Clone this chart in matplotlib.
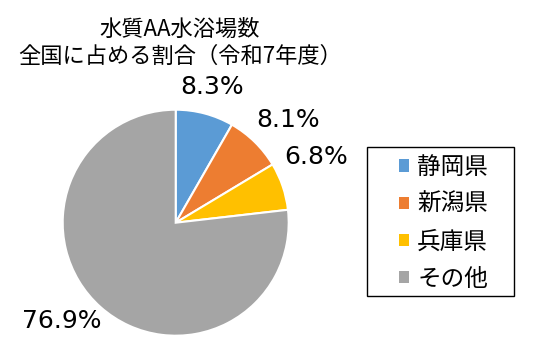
import matplotlib
matplotlib.use("Agg")
import matplotlib.pyplot as plt
from matplotlib.patches import Rectangle
import numpy as np

plt.rcParams['font.family'] = ['Noto Sans CJK JP', 'DejaVu Sans']

title = "水質AA水浴場数\n全国に占める割合（令和7年度）"
categories = ["静岡県", "新潟県", "兵庫県", "その他"]
values = [8.3, 8.1, 6.8, 76.9]
labels = ["8.3%", "8.1%", "6.8%", "76.9%"]
colors = ["#5B9BD5", "#ED7D31", "#FFC000", "#A5A5A5"]
# label placement (radius factor, angle offset in degrees)
label_r = [1.243, 1.347, 1.371, 1.330]
label_da = [0.0, -3.2, 6.3, -7.4]

W, H = 546, 362
fig = plt.figure(figsize=(W / 100, H / 100), dpi=100)
cx, cy, R = 175.7, 362 - 222.7, 113
ax = fig.add_axes([(cx - R) / W, (cy - R) / H, 2 * R / W, 2 * R / H])
wedges, _ = ax.pie(values, colors=colors, startangle=90, counterclock=False,
                   wedgeprops=dict(edgecolor="white", linewidth=1.5))
ax.set_xlim(-1, 1)
ax.set_ylim(-1, 1)
ax.set_aspect("equal")
ax.axis("off")

total = sum(values)
cum = 0
for v, lab, r, da in zip(values, labels, label_r, label_da):
    mid = 90 - (cum + v / 2) / total * 360 + da
    cum += v
    a = np.deg2rad(mid)
    ax.text(r * np.cos(a), r * np.sin(a), lab, ha="center", va="center",
            fontsize=18, color="#000000", clip_on=False,
            family=['DejaVu Sans'])

fig.text(180 / W, 1 - 43 / H, title, ha="center", va="center", fontsize=16,
         linespacing=1.2)

# legend frame
fig.patches.append(Rectangle((367 / W, 1 - 296 / H), (514 - 367) / W,
                             (296 - 147) / H, transform=fig.transFigure,
                             facecolor="none", edgecolor="black",
                             linewidth=1.0))

leg = fig.legend(wedges, categories, loc="upper left",
                 bbox_to_anchor=(399 / W, 1 - 156 / H), fontsize=17,
                 frameon=False, borderpad=0, borderaxespad=0,
                 handlelength=0.43, handleheight=0.43, handletextpad=0.34,
                 labelspacing=0.6)
for h in leg.legend_handles:
    h.set_edgecolor("none")

fig.savefig("out.png", dpi=100)
